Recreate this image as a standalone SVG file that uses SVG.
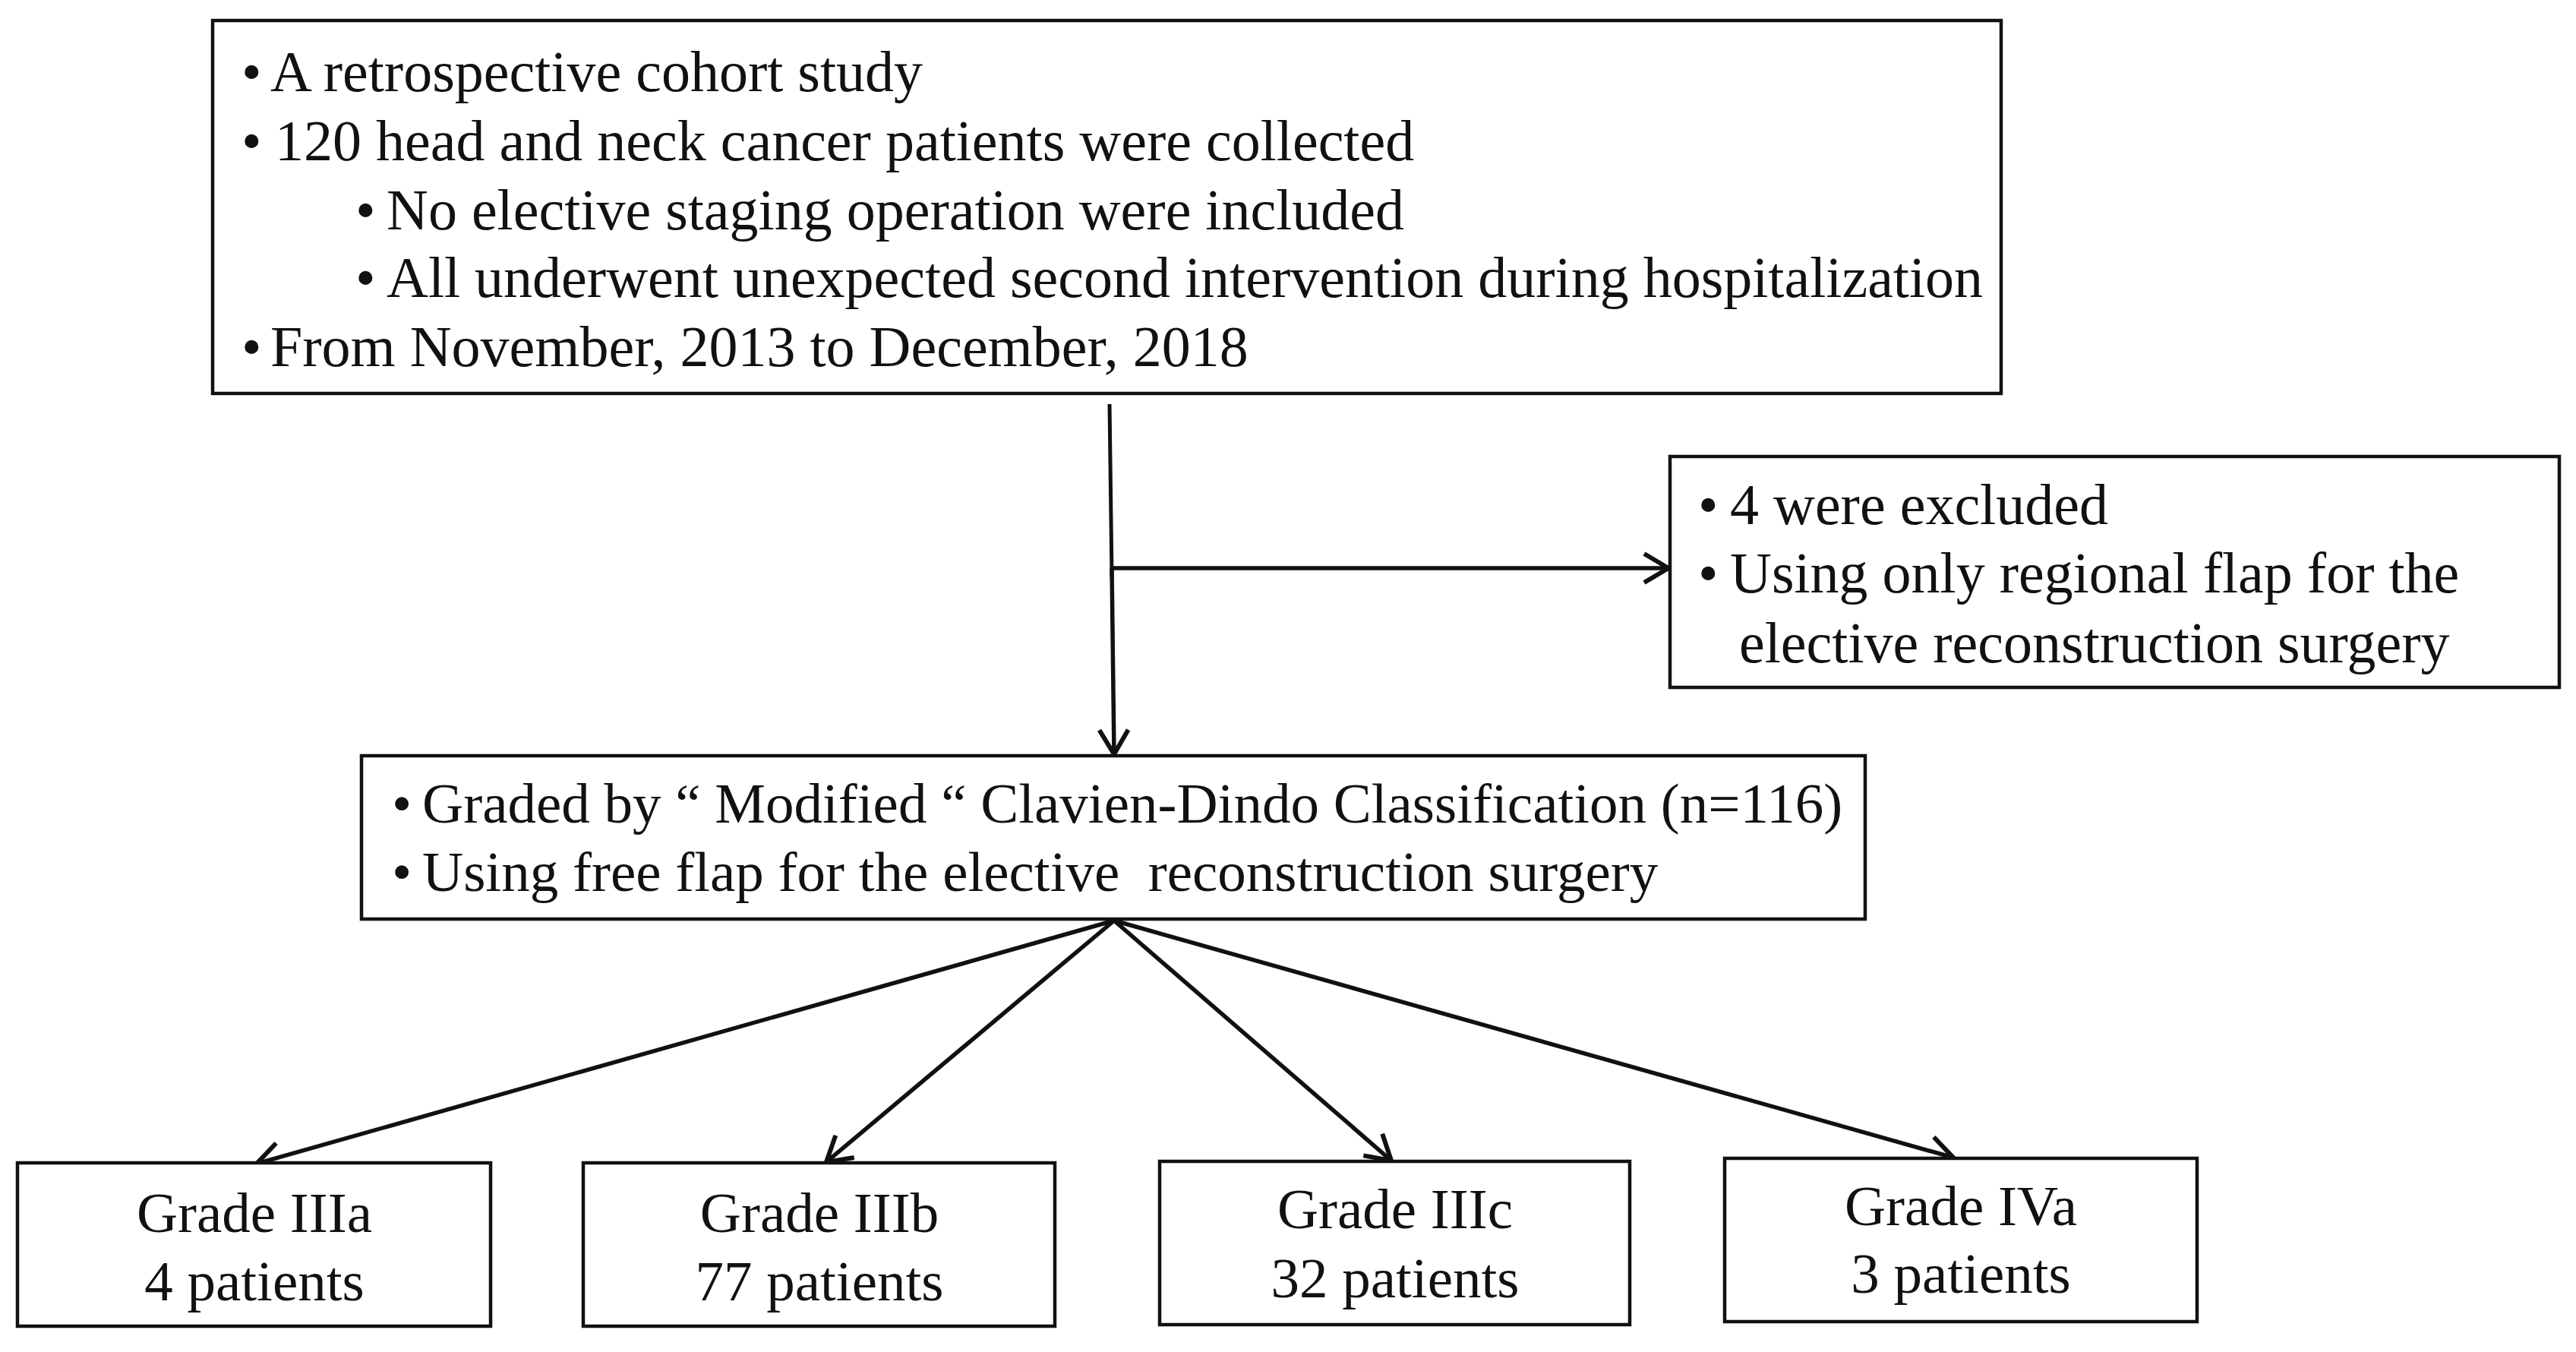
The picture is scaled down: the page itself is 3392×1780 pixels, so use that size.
<svg xmlns="http://www.w3.org/2000/svg" width="3392" height="1780" viewBox="0 0 3392 1780">
<style>
.box{fill:#fff;stroke:#111;stroke-width:4.5}
.t{font-family:"Liberation Serif","Times New Roman",serif;font-size:76px;fill:#111}
.s{font-size:75px}
.c{text-anchor:middle}
.conn{stroke:#111;stroke-width:5.5;fill:none;marker-end:url(#arr)}
.line{stroke:#111;stroke-width:5;fill:none}
</style>
<defs>
<marker id="arr" markerUnits="userSpaceOnUse" markerWidth="46" markerHeight="46" viewBox="0 0 46 46" refX="42" refY="23" orient="auto">
<path d="M10,4 L42,23 L10,42" fill="none" stroke="#111" stroke-width="6"/>
</marker>
</defs>
<rect width="3392" height="1780" fill="#fff"/>
<g id="connectors">
<line class="line" x1="1461" y1="532" x2="1464" y2="760"/>
<line class="conn" x1="1463" y1="748" x2="2197" y2="748"/>
<line class="conn" x1="1464" y1="748" x2="1467" y2="993"/>
<line class="conn" x1="1467" y1="1212" x2="338" y2="1532"/>
<line class="conn" x1="1467" y1="1212" x2="1088" y2="1530"/>
<line class="conn" x1="1467" y1="1212" x2="1832" y2="1528"/>
<line class="conn" x1="1467" y1="1212" x2="2572" y2="1524"/>
</g>
<g id="study">
<rect class="box" x="280" y="27" width="2355" height="491"/>
<text class="t" y="120"><tspan x="318">•</tspan><tspan x="356">A retrospective cohort study</tspan></text>
<text class="t" y="211"><tspan x="318">•</tspan><tspan x="362">120 head and neck cancer patients were collected</tspan></text>
<text class="t" y="302"><tspan x="468">•</tspan><tspan x="509">No elective staging operation were included</tspan></text>
<text class="t" y="391"><tspan x="468">•</tspan><tspan x="509">All underwent unexpected second intervention during hospitalization</tspan></text>
<text class="t" y="482"><tspan x="318">•</tspan><tspan x="356">From November, 2013 to December, 2018</tspan></text>
</g>
<g id="excluded">
<rect class="box" x="2199" y="601" width="1171" height="304"/>
<text class="t" y="690"><tspan x="2236">•</tspan><tspan x="2278">4 were excluded</tspan></text>
<text class="t" y="780"><tspan x="2236">•</tspan><tspan x="2278">Using only regional flap for the</tspan></text>
<text class="t" y="872"><tspan x="2290">elective reconstruction surgery</tspan></text>
</g>
<g id="graded">
<rect class="box" x="476" y="995" width="1980" height="215"/>
<text class="t s" y="1083"><tspan x="516">•</tspan><tspan x="556">Graded by “ Modified “ Clavien-Dindo Classification (n=116)</tspan></text>
<text class="t s" y="1173" xml:space="preserve"><tspan x="516">•</tspan><tspan x="556">Using free flap for the elective  reconstruction surgery</tspan></text>
</g>
<g id="grade-iiia">
<rect class="box" x="23" y="1531" width="623" height="215"/>
<text class="t s c" x="335" y="1622">Grade IIIa</text>
<text class="t s c" x="335" y="1712">4 patients</text>
</g>
<g id="grade-iiib">
<rect class="box" x="768" y="1531" width="621" height="215"/>
<text class="t s c" x="1079" y="1622">Grade IIIb</text>
<text class="t s c" x="1079" y="1712">77 patients</text>
</g>
<g id="grade-iiic">
<rect class="box" x="1527" y="1529" width="619" height="215"/>
<text class="t s c" x="1837" y="1617">Grade IIIc</text>
<text class="t s c" x="1837" y="1708">32 patients</text>
</g>
<g id="grade-iva">
<rect class="box" x="2271" y="1525" width="622" height="215"/>
<text class="t s c" x="2582" y="1613">Grade IVa</text>
<text class="t s c" x="2582" y="1702">3 patients</text>
</g>
</svg>
